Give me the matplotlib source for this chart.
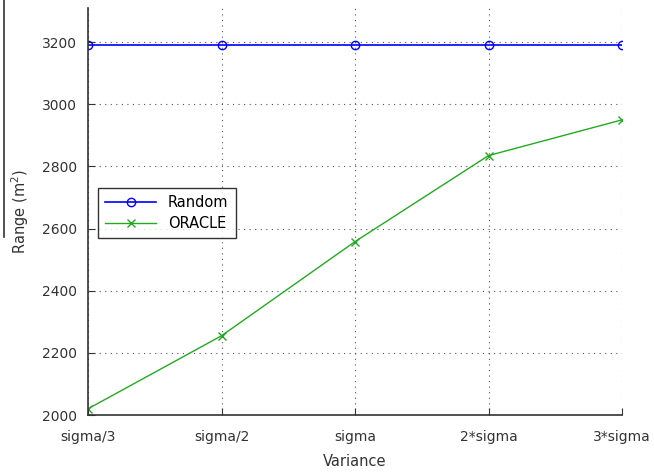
import numpy as np
from matplotlib import pyplot as plt
from matplotlib.lines import Line2D

categories = ['sigma/3', 'sigma/2', 'sigma', '2*sigma', '3*sigma']
random_range = [3190, 3190, 3190, 3190, 3190]
oracle_range = [2020, 2255, 2558, 2835, 2950]

x = np.arange(len(categories))

fig = plt.figure(figsize=(6.54, 4.73), dpi=100)
ax = fig.add_axes([88/654, 1 - 415/473, (622 - 88)/654, (415 - 8)/473])

ax.plot(x, random_range, color='#0000ff', marker='o', markersize=6,
        markerfacecolor='none', linewidth=1.2, label='Random')
ax.plot(x, oracle_range, color='#22aa22', marker='x', markersize=6,
        linewidth=1.0, label='ORACLE')

ax.set_xlim(0, 4)
ax.set_ylim(2000, 3310)
ax.set_xticks(x)
ax.set_xticklabels(categories)
ax.set_yticks([2000, 2200, 2400, 2600, 2800, 3000, 3200])
ax.tick_params(direction='in', labelsize=10, length=5, colors='#333333')
ax.tick_params(axis='x', pad=11)
ax.tick_params(axis='y', pad=8)
ax.grid(True, linestyle=(0, (1, 4)), color='#555555', linewidth=0.8)

for s in ['top', 'right']:
    ax.spines[s].set_visible(False)
for s in ['left', 'bottom']:
    ax.spines[s].set_color('#333333')
    ax.spines[s].set_linewidth(1.2)

ax.set_xlabel('Variance', fontsize=10.5, color='#333333', labelpad=7)
ax.set_ylabel('Range (m$^2$)', fontsize=10.5, color='#333333', labelpad=8)

leg = ax.legend(loc='upper left', bbox_to_anchor=(10/534, 1 - 180/407),
                borderaxespad=0, fancybox=False, edgecolor='black', fontsize=10.5,
                handlelength=3.5, borderpad=0.5, labelspacing=0.4)
leg.get_frame().set_linewidth(1.0)

# stray border line at the left edge of the picture
fig.add_artist(Line2D([4/654, 4/654], [1, 1 - 237/473], color='#333333', linewidth=1.2))

fig.savefig('out.png', dpi=100)
